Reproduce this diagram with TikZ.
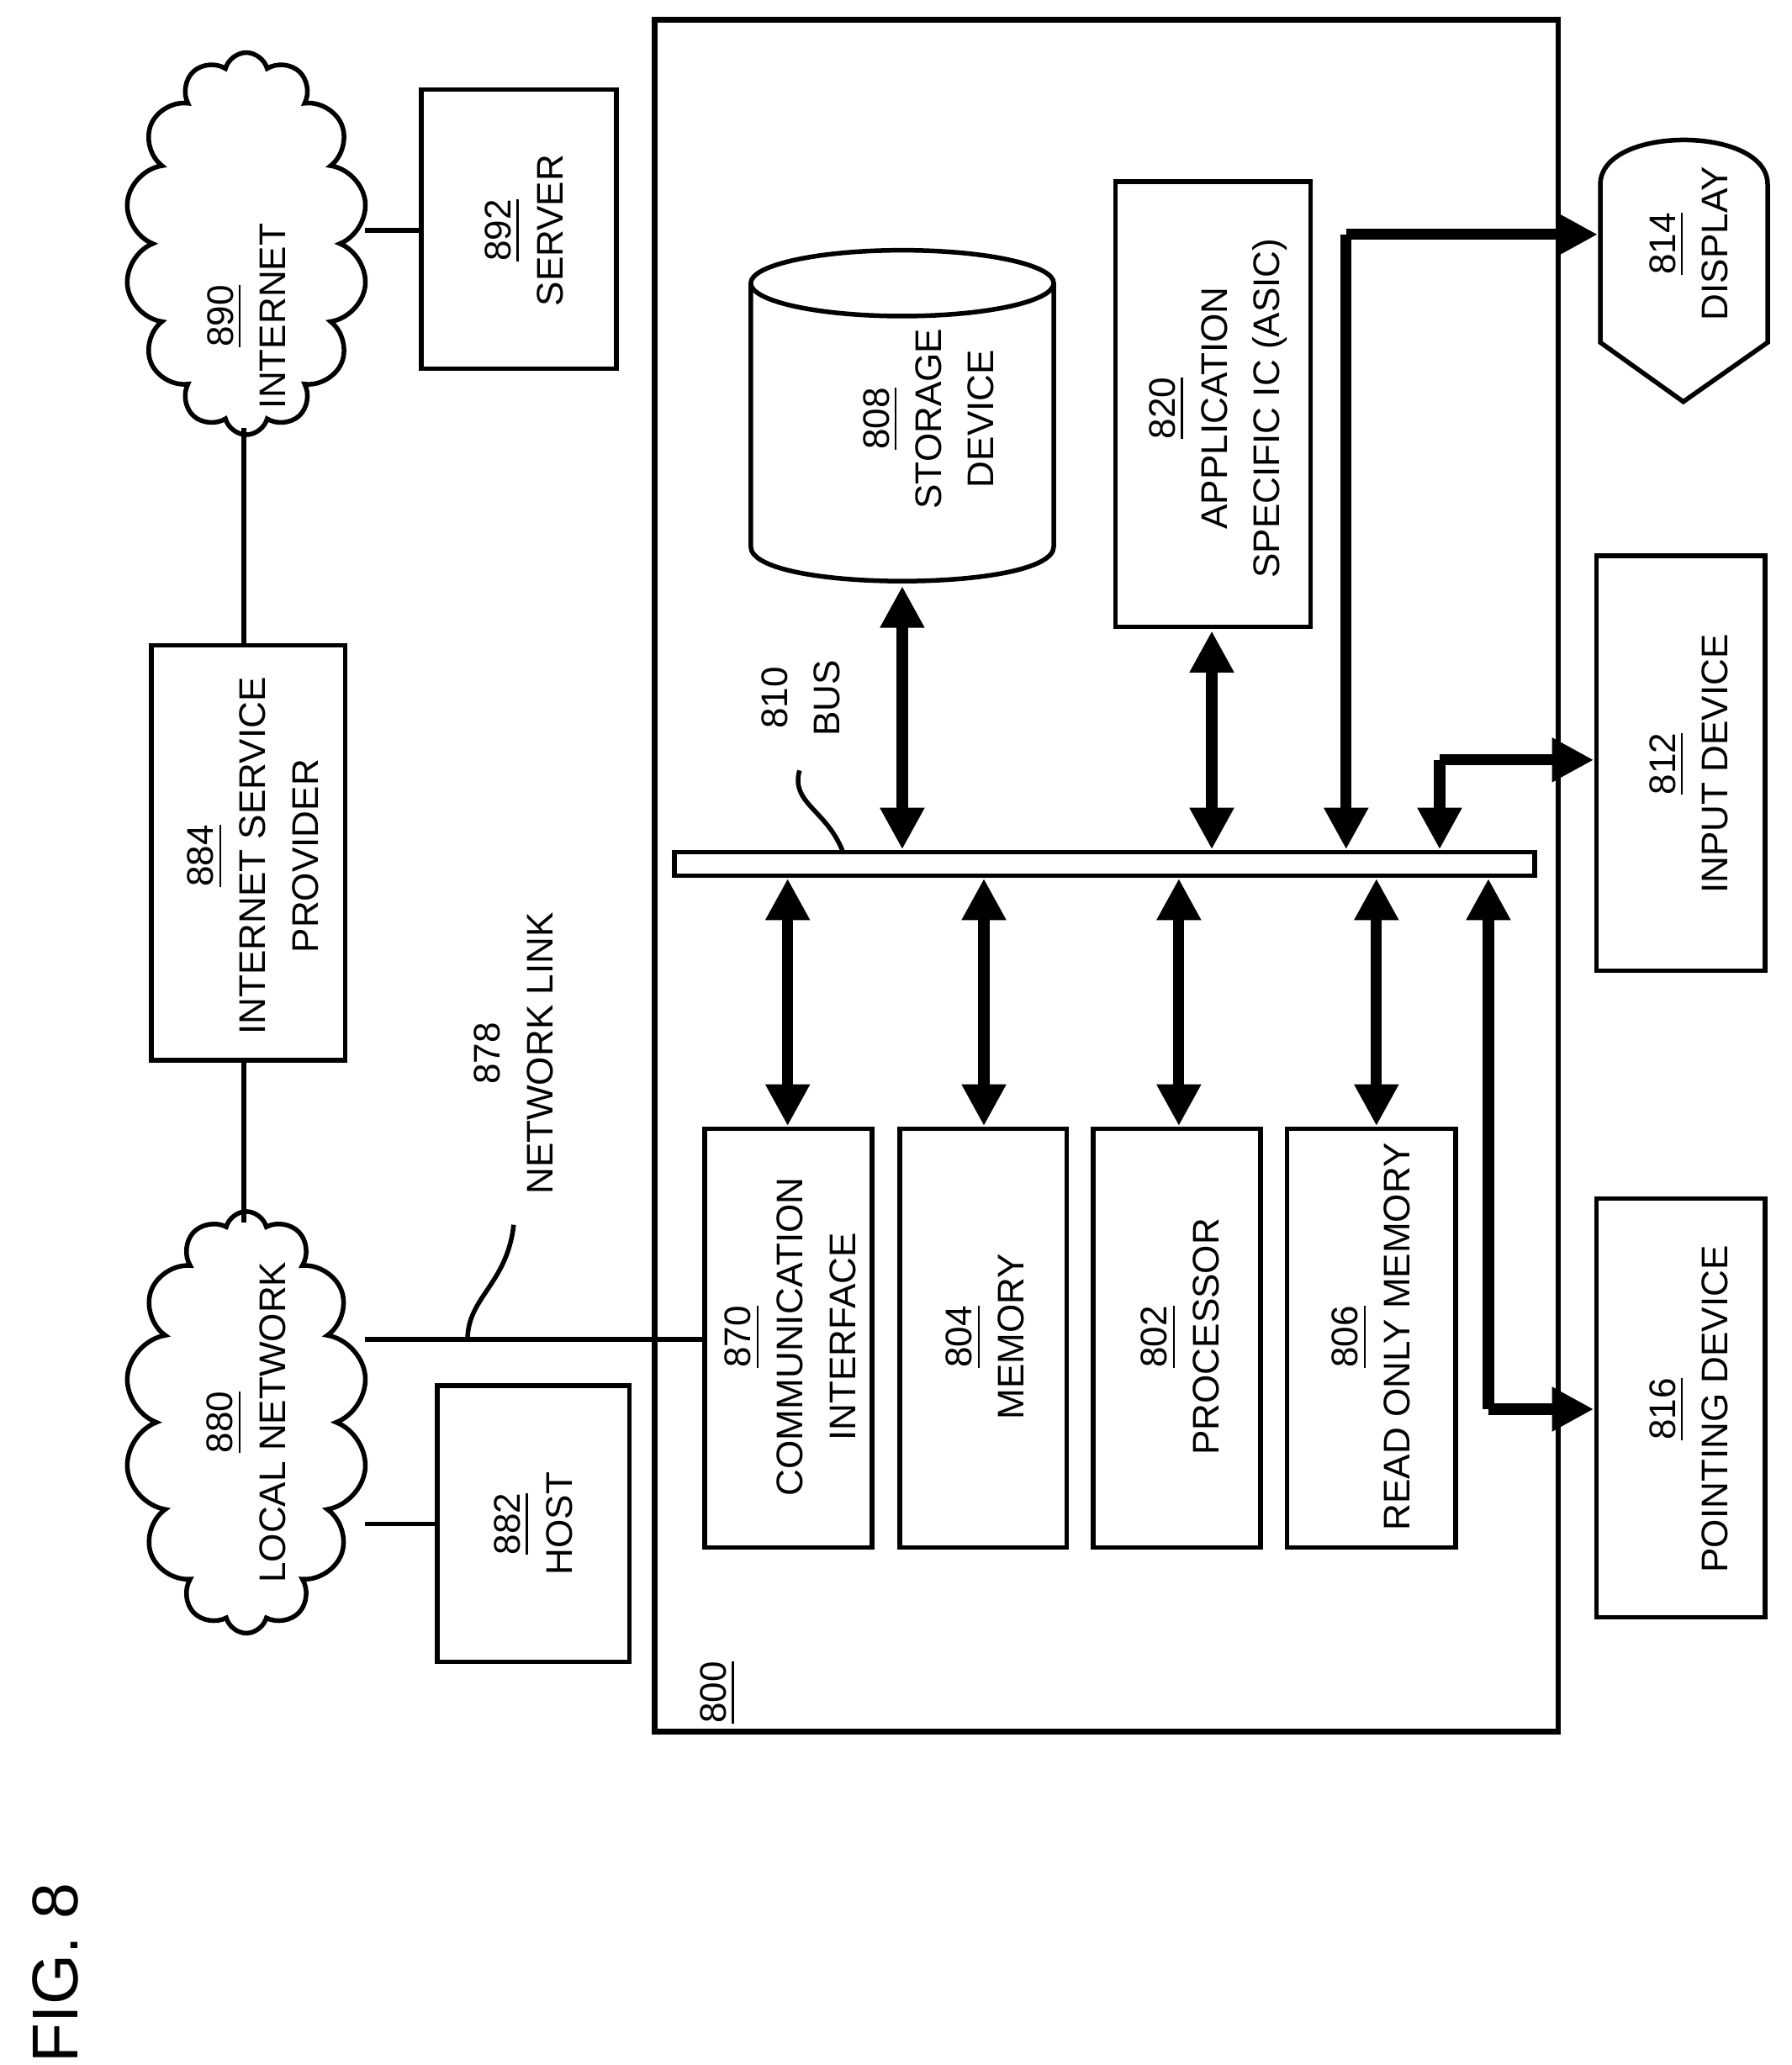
\documentclass[tikz,border=0pt]{standalone}
\usepackage{fontspec}
\setmainfont{Liberation Sans}
\usetikzlibrary{positioning,shapes.symbols,arrows.meta}
\tikzset{
  box/.style={draw, line width=1pt, inner sep=0pt},
  lbl/.style={rotate=90, align=center, font=\fontsize{8}{11.3}\selectfont, inner sep=0pt},
  link/.style={line width=1pt},
  busarrow/.style={line width=2.4pt, {Triangle[length=9pt,width=9pt]}-{Triangle[length=9pt,width=9pt]}},
  busline/.style={line width=2.4pt, -{Triangle[length=9pt,width=9pt]}},
}
\newcommand{\ul}[1]{\underline{#1}}
\begin{document}
\begin{tikzpicture}[x=0.01cm,y=-0.01cm]
\useasboundingbox (0,0) rectangle (1360,1568);
% computer system
\draw[line width=1.2pt] (497,15) rectangle (1183,1315);
\node (num) [lbl] at (545,1285) {\ul{800}};
\draw[line width=1pt] (512,647) rectangle (1165,665);
\coordinate (bus) at (640,647);
\node (buslbl) [lbl] at (608,530) {810\\BUS};
\draw[link] (bus) .. controls (628,615) and (600,610) .. (607,585);
% storage device
\draw[line width=1pt] (570,215) -- (570,415) .. controls (570,450) and (800,450) .. (800,415) -- (800,215);
\draw[line width=1pt] (685,215) ellipse[x radius=115,y radius=25];
\node (stor) [lbl] at (705,318) {\ul{808}\\STORAGE\\DEVICE};
% asic
\draw[box] (847,138) rectangle (995,476);
\node (asic) [lbl] at (925,310) {\ul{820}\\APPLICATION\\SPECIFIC IC (ASIC)};
% bottom boxes
\draw[box] (535,857) rectangle (662,1175);
\node (comm) [lbl] at (600,1015) {\ul{870}\\COMMUNICATION\\INTERFACE};
\draw[box] (683,857) rectangle (810,1175);
\node (mem) [lbl] at (748,1015) {\ul{804}\\MEMORY};
\draw[box] (830,857) rectangle (957,1175);
\node (proc) [lbl] at (896,1015) {\ul{802}\\PROCESSOR};
\draw[box] (977,857) rectangle (1105,1175);
\node (rom) [lbl] at (1041,1015) {\ul{806}\\READ ONLY MEMORY};
% bus arrows
\draw[busarrow] (598,667) -- (598,855);
\draw[busarrow] (747,667) -- (747,855);
\draw[busarrow] (895,667) -- (895,855);
\draw[busarrow] (1045,667) -- (1045,855);
\draw[busarrow] (685,445) -- (685,645);
\draw[busarrow] (920,479) -- (920,645);
% peripherals
\draw[line width=1pt] (1215,260) -- (1215,140) .. controls (1215,95) and (1342,95) .. (1342,140)
  -- (1342,260) -- (1278,305) -- cycle;
\node (disp) [lbl] at (1282,185) {\ul{814}\\DISPLAY};
\draw[box] (1212,422) rectangle (1340,737);
\node (inp) [lbl] at (1282,580) {\ul{812}\\INPUT DEVICE};
\draw[box] (1212,910) rectangle (1340,1228);
\node (pnt) [lbl] at (1282,1070) {\ul{816}\\POINTING DEVICE};
\draw[busline] (1022,178) -- (1022,645);
\draw[busline] (1022,178) -- (1213,178);
\draw[busline] (1093,577) -- (1093,645);
\draw[busline] (1093,577) -- (1210,577);
\draw[busline] (1130,1070) -- (1130,667);
\draw[busline] (1130,1070) -- (1210,1070);
% network side
\node (inet) [cloud, draw, line width=1pt, cloud puffs=14, cloud ignores aspect,
  minimum width=1.85cm, minimum height=2.9cm] at (187,185) {};
\node (inettxt) [lbl] at (187,240) {\ul{890}\\INTERNET};
\node (lan) [cloud, draw, line width=1pt, cloud puffs=14, cloud ignores aspect,
  minimum width=1.85cm, minimum height=3.2cm] at (187,1080) {};
\node (lantxt) [lbl] at (187,1080) {\ul{880}\\LOCAL NETWORK};
\draw[box] (320,68) rectangle (468,280);
\node (srv) [lbl] at (398,175) {\ul{892}\\SERVER};
\draw[box] (115,490) rectangle (262,805);
\node (isp) [lbl] at (192,650) {\ul{884}\\INTERNET SERVICE\\PROVIDER};
\draw[box] (332,1052) rectangle (478,1262);
\node (host) [lbl] at (405,1157) {\ul{882}\\HOST};
\draw[link] (185,325) -- (185,490);
\draw[link] (185,805) -- (185,928);
\draw[link] (277,175) -- (320,175);
\draw[link] (277,1157) -- (332,1157);
\draw[link] (277,1017) -- (535,1017);
\node (nl) [lbl] at (390,800) {878\\NETWORK LINK};
\draw[link] (355,1017) .. controls (355,985) and (385,975) .. (390,930);
% figure title
\node (fig) [rotate=90, font=\fontsize{14}{16}\selectfont] at (42,1498) {FIG. 8};
\end{tikzpicture}
\end{document}
